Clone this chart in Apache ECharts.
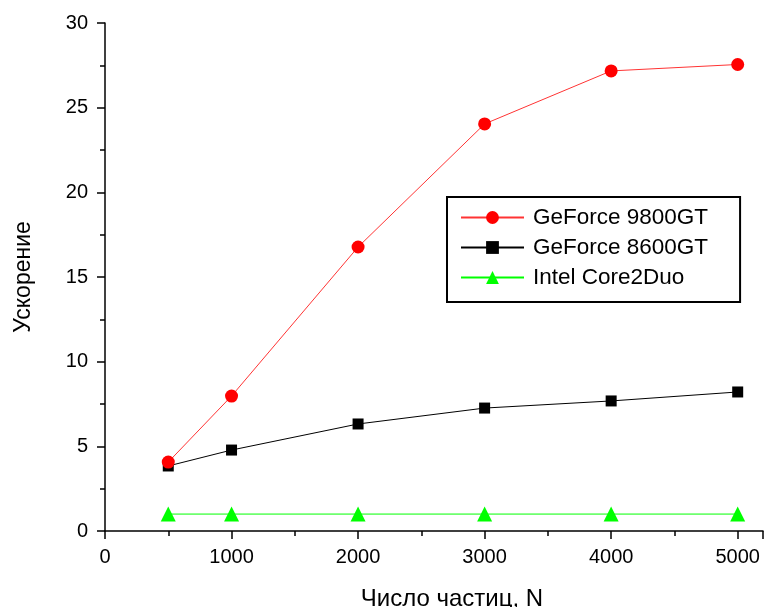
<!DOCTYPE html>
<html>
<head>
<meta charset="utf-8">
<script src="https://cdn.jsdelivr.net/npm/echarts@6/dist/echarts.min.js"></script>
<style>
html, body { margin: 0; padding: 0; background: #fff; }
#chart { width: 767px; height: 607px; }
</style>
</head>
<body>
<div id="chart"></div>
<script>
// число частиц
var particles = [500, 1000, 2000, 3000, 4000, 5000];
// ускорение
var gf9800 = [4.07, 7.97, 16.77, 24.04, 27.17, 27.55];
var gf8600 = [3.84, 4.78, 6.32, 7.26, 7.68, 8.21];
var core2duo = [1, 1, 1, 1, 1, 1];

function pairs(ys) {
	return particles.map(function (x, i) { return [x, ys[i]]; });
}

var myChart = echarts.init(document.getElementById('chart'));
var font = 'Liberation Sans, Arial, sans-serif';

var option = {
	animation: false,
	grid: { left: 105, top: 23, right: 4, bottom: 76, containLabel: false, outerBoundsMode: 'none' },
	legend: {
		orient: 'vertical',
		left: 447,
		top: 197,
		padding: [9, 32, 13, 13],
		borderColor: '#000',
		borderWidth: 2,
		itemWidth: 63,
		itemHeight: 16,
		itemGap: 7,
		textStyle: { fontFamily: font, fontSize: 22.5, color: '#000', padding: [0, 0, 0, 4] },
		data: ['GeForce 9800GT', 'GeForce 8600GT', 'Intel Core2Duo']
	},
	xAxis: {
		type: 'value',
		min: 0,
		max: 5200,
		interval: 1000,
		name: 'Число частиц, N',
		nameLocation: 'middle',
		nameGap: 56,
		nameTextStyle: { fontFamily: font, fontSize: 24, color: '#000', padding: [0, 0, 0, 36] },
		axisLine: { lineStyle: { color: '#000', width: 1.5 } },
		axisTick: { length: 8, lineStyle: { color: '#000', width: 1.5 } },
		minorTick: { show: true, splitNumber: 2, length: 5, lineStyle: { color: '#000', width: 1.5 } },
		axisLabel: {
			fontFamily: font, fontSize: 20, color: '#000', margin: 16,
			formatter: function (v) { return v > 5000 ? '' : v; }
		},
		splitLine: { show: false }
	},
	yAxis: {
		type: 'value',
		min: 0,
		max: 30,
		interval: 5,
		name: 'Ускорение',
		nameLocation: 'middle',
		nameGap: 70,
		nameTextStyle: { fontFamily: font, fontSize: 23, color: '#000' },
		axisLine: { show: true, lineStyle: { color: '#000', width: 1.5 } },
		axisTick: { show: true, length: 8, lineStyle: { color: '#000', width: 1.5 } },
		minorTick: { show: true, splitNumber: 2, length: 5, lineStyle: { color: '#000', width: 1.5 } },
		axisLabel: { fontFamily: font, fontSize: 20, color: '#000', margin: 17 },
		splitLine: { show: false }
	},
	series: [
		{
			name: 'GeForce 9800GT',
			type: 'line',
			data: pairs(gf9800),
			symbol: 'circle',
			symbolSize: 13,
			z: 3,
			itemStyle: { color: '#ff0000' },
			lineStyle: { color: '#ff3333', width: 1 }
		},
		{
			name: 'GeForce 8600GT',
			type: 'line',
			data: pairs(gf8600),
			symbol: 'rect',
			symbolSize: 11,
			z: 2,
			itemStyle: { color: '#000' },
			lineStyle: { color: '#000', width: 1 }
		},
		{
			name: 'Intel Core2Duo',
			type: 'line',
			data: pairs(core2duo),
			symbol: 'triangle',
			symbolSize: 15,
			itemStyle: { color: '#00ff00' },
			lineStyle: { color: '#00ff00', width: 1 }
		}
	]
};
myChart.setOption(option);
</script>
</body>
</html>
